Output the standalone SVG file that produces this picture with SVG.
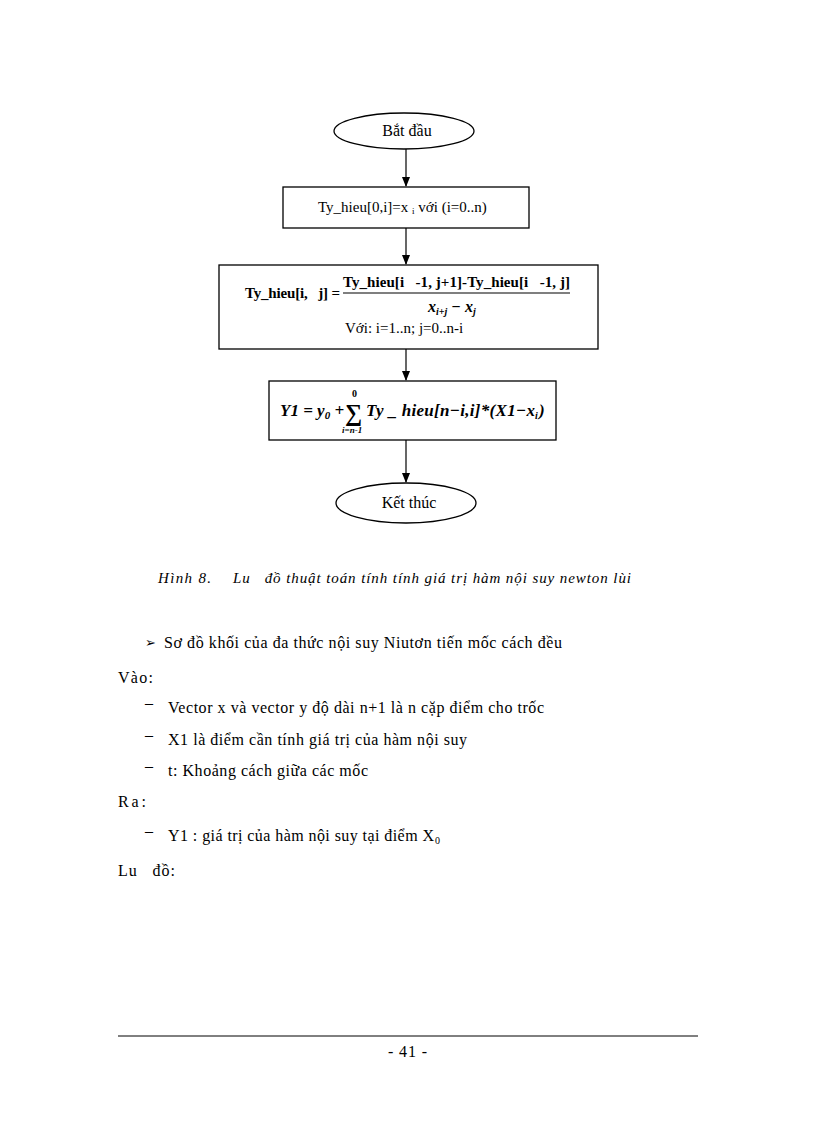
<svg xmlns="http://www.w3.org/2000/svg" width="816" height="1123" viewBox="0 0 816 1123">
<defs>
<marker id="ah" markerWidth="10" markerHeight="10" refX="9" refY="5" orient="auto" markerUnits="userSpaceOnUse"><path d="M0,1 L10,5 L0,9 Z" fill="#000"/></marker>
<style>
.shape{fill:#fff;stroke:#000;stroke-width:1.3}
.t{font-family:"Liberation Serif",serif;font-size:15px;fill:#000}
.b{font-family:"Liberation Serif",serif;font-size:15px;font-weight:bold;fill:#000}
.bi{font-family:"Liberation Serif",serif;font-size:17px;font-weight:bold;font-style:italic;fill:#000}
.body{font-family:"Liberation Serif",serif;font-size:16px;fill:#000}
.cap{font-family:"Liberation Serif",serif;font-size:15px;font-style:italic;fill:#000}
.conn{stroke:#000;stroke-width:1.2;fill:none}
</style>
</defs>
<rect width="816" height="1123" fill="#fff"/>
<g id="connectors">
<line class="conn" x1="406" y1="149" x2="406" y2="186" marker-end="url(#ah)"/>
<line class="conn" x1="406" y1="228" x2="406" y2="264" marker-end="url(#ah)"/>
<line class="conn" x1="406" y1="349" x2="406" y2="380" marker-end="url(#ah)"/>
<line class="conn" x1="406" y1="440" x2="406" y2="482" marker-end="url(#ah)"/>
</g>
<g id="start">
<ellipse class="shape" cx="404" cy="131" rx="70" ry="18"/>
<text class="t" x="407" y="136" text-anchor="middle" style="font-size:16px">Bắt đầu</text>
</g>
<g id="init">
<rect class="shape" x="283" y="187" width="246" height="41"/>
<text class="t" x="318" y="212">Ty_hieu[0,i]=x <tspan style="font-size:9px" dy="2">i</tspan><tspan dy="-2"> với (i=0..n)</tspan></text>
</g>
<g id="compute">
<rect class="shape" x="219" y="265" width="379" height="84"/>
<text class="b" x="245" y="298" textLength="95" lengthAdjust="spacing">Ty_hieu[i,&#160;&#160;&#160;j] =</text>
<text class="b" x="343" y="287" textLength="227" lengthAdjust="spacing">Ty_hieu[i&#160;&#160;&#160;-1, j+1]-Ty_hieu[i&#160;&#160;&#160;-1, j]</text>
<line x1="343" y1="293" x2="570" y2="293" stroke="#000" stroke-width="1.2"/>
<text class="bi" x="428" y="312" style="font-size:16px">x<tspan style="font-size:10px" dy="3">i+j</tspan><tspan dy="-3"> − x</tspan><tspan style="font-size:10px" dy="3">j</tspan></text>
<text class="t" x="345" y="333">Với: i=1..n; j=0..n-i</text>
</g>
<g id="sum">
<rect class="shape" x="269" y="381" width="287" height="59"/>
<text class="bi" x="280" y="416">Y1 = y<tspan style="font-size:11px" dy="3">0</tspan><tspan dy="-3"> + </tspan></text>
<text class="b" x="345" y="421" style="font-size:24px">∑</text>
<text class="b" x="352" y="397" style="font-size:10px">0</text>
<text class="bi" x="342" y="433" style="font-size:9px">i=n-1</text>
<text class="bi" x="366" y="416" textLength="169" lengthAdjust="spacing">Ty _ hieu[n−i,i]*(X1−x</text>
<text class="bi" x="535" y="419" style="font-size:10px">i</text>
<text class="bi" x="539" y="416">)</text>
</g>
<g id="end">
<ellipse class="shape" cx="406" cy="503" rx="70" ry="20"/>
<text class="t" x="409" y="508" text-anchor="middle" style="font-size:16px">Kết thúc</text>
</g>
<text class="cap" x="158" y="583" textLength="53" lengthAdjust="spacing">Hình 8.</text>
<text class="cap" x="233" y="583" textLength="398" lengthAdjust="spacing">Lu&#160;&#160;&#160;đồ thuật toán tính tính giá trị hàm nội suy newton lùi</text>
<text class="body" x="145" y="647" style="font-size:13px">➢</text>
<text class="body" x="164" y="648" textLength="398" lengthAdjust="spacing">Sơ đồ khối của đa thức nội suy Niutơn tiến mốc cách đều</text>
<text class="body" x="118" y="683" textLength="35" lengthAdjust="spacing">Vào:</text>
<text class="body" x="145" y="708">–</text>
<text class="body" x="168" y="713" textLength="376" lengthAdjust="spacing">Vector x và vector y độ dài n+1 là n cặp điểm cho trốc</text>
<text class="body" x="145" y="740">–</text>
<text class="body" x="168" y="745" textLength="299" lengthAdjust="spacing">X1 là điểm cần tính giá trị của hàm nội suy</text>
<text class="body" x="145" y="771">–</text>
<text class="body" x="168" y="776" textLength="200" lengthAdjust="spacing">t: Khoảng cách giữa các mốc</text>
<text class="body" x="118" y="807" textLength="28" lengthAdjust="spacing">Ra:</text>
<text class="body" x="145" y="836">–</text>
<text class="body" x="168" y="841" textLength="266" lengthAdjust="spacing">Y1 : giá trị của hàm nội suy tại điểm X</text>
<text class="body" x="435" y="844" style="font-size:10px">0</text>
<text class="body" x="118" y="876" textLength="57" lengthAdjust="spacing">Lu&#160;&#160;&#160;đồ:</text>
<line x1="118" y1="1036" x2="698" y2="1036" stroke="#000" stroke-width="1"/>
<text class="body" x="388" y="1057" textLength="39" lengthAdjust="spacing">- 41 -</text>
</svg>
